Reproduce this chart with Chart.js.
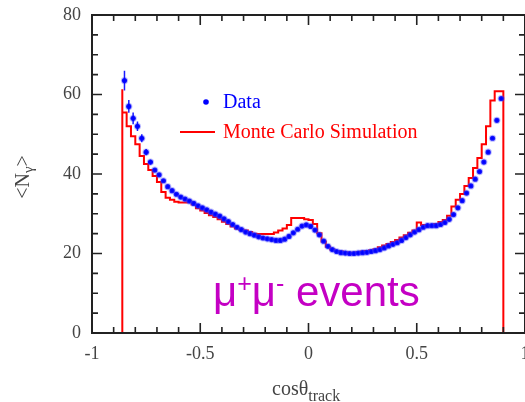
<!DOCTYPE html>
<html>
<head>
<meta charset="utf-8">
<script src="https://cdn.jsdelivr.net/npm/chart.js@4"></script>
<style>
  body { margin: 0; overflow: hidden; background: #fff; }
  #wrap { width: 545px; height: 402px; }
</style>
</head>
<body>
<div id="wrap"><canvas id="chart"></canvas></div>
<script>
// bin centres in cos(theta_track), bin width 0.02
const cosTheta = [
  -0.85,-0.83,-0.81,-0.79,-0.77,-0.75,-0.73,-0.71,-0.69,-0.67,
  -0.65,-0.63,-0.61,-0.59,-0.57,-0.55,-0.53,-0.51,-0.49,-0.47,
  -0.45,-0.43,-0.41,-0.39,-0.37,-0.35,-0.33,-0.31,-0.29,-0.27,
  -0.25,-0.23,-0.21,-0.19,-0.17,-0.15,-0.13,-0.11,-0.09,-0.07,
  -0.05,-0.03,-0.01,0.01,0.03,0.05,0.07,0.09,0.11,0.13,
  0.15,0.17,0.19,0.21,0.23,0.25,0.27,0.29,0.31,0.33,
  0.35,0.37,0.39,0.41,0.43,0.45,0.47,0.49,0.51,0.53,
  0.55,0.57,0.59,0.61,0.63,0.65,0.67,0.69,0.71,0.73,
  0.75,0.77,0.79,0.81,0.83,0.85,0.87,0.89
];
// <N_gamma> measured (blue points)
const dataN = [
  63.5,57.0,54.0,52.0,49.0,45.5,43.0,41.0,39.8,38.3,
  36.8,35.8,34.9,34.2,33.7,33.2,32.6,32.0,31.5,31.0,
  30.4,29.9,29.4,28.7,28.0,27.3,26.6,26.0,25.4,25.0,
  24.6,24.2,23.9,23.7,23.5,23.3,23.3,23.6,24.3,25.2,
  26.1,26.9,27.2,26.8,25.9,24.7,23.1,21.8,21.0,20.5,
  20.2,20.1,20.0,20.0,20.1,20.2,20.3,20.5,20.7,21.0,
  21.4,21.9,22.3,22.7,23.3,24.0,24.7,25.4,26.0,26.6,
  27.0,27.0,27.0,27.3,27.8,28.6,29.8,31.5,33.3,35.2,
  37.0,38.7,40.6,43.0,45.5,49.0,53.5,59.0
];
// visible error bars (only the first bins have them large enough to see)
const dataErr = [2.5,1.6,1.5,1.2,1.0,0.8,0.6];
// Monte Carlo histogram (red)
const mcN = [
  61.3,55.5,52.0,49.5,47.5,44.5,42.5,41.0,39.5,38.0,
  35.5,34.0,33.5,33.0,32.8,32.8,33.0,32.3,31.4,30.8,
  30.2,29.6,29.2,28.6,28.0,27.4,26.8,26.3,26.0,25.8,
  25.4,25.0,24.9,24.9,24.9,24.9,25.3,25.8,26.3,27.2,
  28.9,28.9,28.9,28.6,28.4,27.4,25.1,23.0,21.7,21.0,
  20.6,20.5,20.3,20.2,20.2,20.3,20.5,20.6,20.8,21.1,
  21.6,22.0,22.4,22.9,23.4,24.0,24.6,25.2,25.8,27.8,
  27.2,26.9,27.0,27.4,27.9,28.4,29.5,31.8,33.5,35.0,
  37.0,39.0,41.5,44.0,47.5,52.0,58.5,60.8
];
const xTicks = [-1, -0.5, 0, 0.5, 1];
const yTicks = [0, 20, 40, 60, 80];
const halfBin = 0.01;

// histogram outline as step points
const last = cosTheta.length - 1;
const mcPoints = [{ x: cosTheta[0] - halfBin, y: 0 }];
cosTheta.forEach((c, i) => mcPoints.push({ x: c - halfBin, y: mcN[i] }));
mcPoints.push({ x: cosTheta[last] + halfBin, y: mcN[last] });
mcPoints.push({ x: cosTheta[last] + halfBin, y: 0 });

const dataPoints = cosTheta.map((c, i) => ({ x: c, y: dataN[i] }));

const serif = '"Liberation Serif", "DejaVu Serif", serif';

const framePlugin = {
  id: 'frame',
  afterDatasetsDraw(chart) {
    const ctx = chart.ctx, xs = chart.scales.x, ys = chart.scales.y;
    // error bars
    ctx.save();
    ctx.strokeStyle = 'rgba(0,0,255,0.9)';
    ctx.lineWidth = 1.5;
    dataErr.forEach((e, i) => {
      if (!e) return;
      const px = xs.getPixelForValue(cosTheta[i]);
      ctx.beginPath();
      ctx.moveTo(px, ys.getPixelForValue(dataN[i] - e));
      ctx.lineTo(px, ys.getPixelForValue(dataN[i] + e));
      ctx.moveTo(xs.getPixelForValue(cosTheta[i] - halfBin), ys.getPixelForValue(dataN[i]));
      ctx.lineTo(xs.getPixelForValue(cosTheta[i] + halfBin), ys.getPixelForValue(dataN[i]));
      ctx.stroke();
    });
    ctx.restore();
  },
  afterDraw(chart) {
    const ctx = chart.ctx, a = chart.chartArea;
    const xs = chart.scales.x, ys = chart.scales.y;
    ctx.save();
    ctx.strokeStyle = '#222';
    ctx.lineWidth = 2;
    ctx.strokeRect(a.left, a.top, a.right - a.left, a.bottom - a.top);
    ctx.lineWidth = 1.6;
    ctx.beginPath();
    for (let i = -10; i <= 10; i++) {
      const px = xs.getPixelForValue(i / 10);
      const len = i % 5 === 0 ? 10 : 6;
      ctx.moveTo(px, a.bottom); ctx.lineTo(px, a.bottom - len);
      ctx.moveTo(px, a.top); ctx.lineTo(px, a.top + len);
    }
    for (let i = 0; i <= 16; i++) {
      const py = ys.getPixelForValue(i * 5);
      const len = i % 4 === 0 ? 10 : 6;
      ctx.moveTo(a.left, py); ctx.lineTo(a.left + len, py);
      ctx.moveTo(a.right, py); ctx.lineTo(a.right - len, py);
    }
    ctx.stroke();

    // x title: cos(theta)_track
    ctx.fillStyle = '#444';
    ctx.textBaseline = 'alphabetic';
    const main = 'cosθ';
    ctx.font = '20px ' + serif;
    const mainW = ctx.measureText(main).width;
    const x0 = 272;
    ctx.fillText(main, x0, 395);
    ctx.font = '16px ' + serif;
    ctx.fillText('track', x0 + mainW, 401);

    // y title: <N_gamma>
    ctx.translate(29, 177);
    ctx.rotate(-Math.PI / 2);
    ctx.font = '20px ' + serif;
    const p1 = '<N', p3 = '>';
    const w1 = ctx.measureText(p1).width;
    ctx.font = '15px ' + serif;
    const w2 = ctx.measureText('γ').width;
    ctx.font = '20px ' + serif;
    const w3 = ctx.measureText(p3).width;
    let tx = -(w1 + w2 + w3) / 2;
    ctx.fillText(p1, tx, 0);
    ctx.font = '15px ' + serif;
    ctx.fillText('γ', tx + w1, 4);
    ctx.font = '20px ' + serif;
    ctx.fillText(p3, tx + w1 + w2, 0);
    ctx.restore();

    // legend
    ctx.save();
    ctx.textBaseline = 'middle';
    ctx.font = '20px ' + serif;
    ctx.fillStyle = '#0000ff';
    ctx.beginPath();
    ctx.arc(206, 102, 2.8, 0, Math.PI * 2);
    ctx.fill();
    ctx.fillText('Data', 223, 103);
    ctx.strokeStyle = '#ff0000';
    ctx.lineWidth = 2;
    ctx.beginPath();
    ctx.moveTo(180, 132); ctx.lineTo(215, 132);
    ctx.stroke();
    ctx.fillStyle = '#ff0000';
    ctx.fillText('Monte Carlo Simulation', 223, 133);

    // annotation
    ctx.textBaseline = 'alphabetic';
    ctx.fillStyle = '#c400c4';
    const big = '42px "Liberation Sans", Arial, sans-serif';
    const small = '25px "Liberation Sans", Arial, sans-serif';
    let ax = 213;
    const base = 306;
    ctx.font = big; ctx.fillText('μ', ax, base); ax += ctx.measureText('μ').width;
    ctx.font = small; ctx.fillText('+', ax, base - 14); ax += ctx.measureText('+').width;
    ctx.font = big; ctx.fillText('μ', ax, base); ax += ctx.measureText('μ').width;
    ctx.font = small; ctx.fillText('-', ax, base - 14); ax += ctx.measureText('-').width;
    ctx.font = big; ctx.fillText(' events', ax, base);
    ctx.restore();
  }
};

new Chart(document.getElementById('chart'), {
  type: 'scatter',
  data: {
    datasets: [
      {
        label: 'Data',
        data: dataPoints,
        pointRadius: 2.6,
        pointBackgroundColor: '#0000ff',
        pointBorderColor: 'rgba(70,70,255,0.35)',
        pointBorderWidth: 2
      },
      {
        type: 'line',
        label: 'Monte Carlo Simulation',
        data: mcPoints,
        stepped: 'after',
        borderColor: '#ff0000',
        borderWidth: 2,
        pointRadius: 0,
        fill: false
      }
    ]
  },
  options: {
    responsive: true,
    maintainAspectRatio: false,
    animation: false,
    layout: { padding: { left: 0, right: 20, top: 15, bottom: 0 } },
    plugins: { legend: { display: false }, tooltip: { enabled: false } },
    scales: {
      x: {
        type: 'linear', min: -1, max: 1,
        grid: { display: false, drawTicks: false },
        border: { display: false },
        afterBuildTicks(s) { s.ticks = xTicks.map(v => ({ value: v })); },
        ticks: { padding: 10, color: '#444', font: { family: serif, size: 18 }, callback: v => String(v) },
        afterFit(s) { s.height = 69; }
      },
      y: {
        min: 0, max: 80,
        grid: { display: false, drawTicks: false },
        border: { display: false },
        afterBuildTicks(s) { s.ticks = yTicks.map(v => ({ value: v })); },
        ticks: { padding: 11, color: '#444', font: { family: serif, size: 18, lineHeight: 0.2 }, callback: v => String(v) },
        afterFit(s) { s.width = 92; }
      }
    }
  },
  plugins: [framePlugin]
});
</script>
</body>
</html>
